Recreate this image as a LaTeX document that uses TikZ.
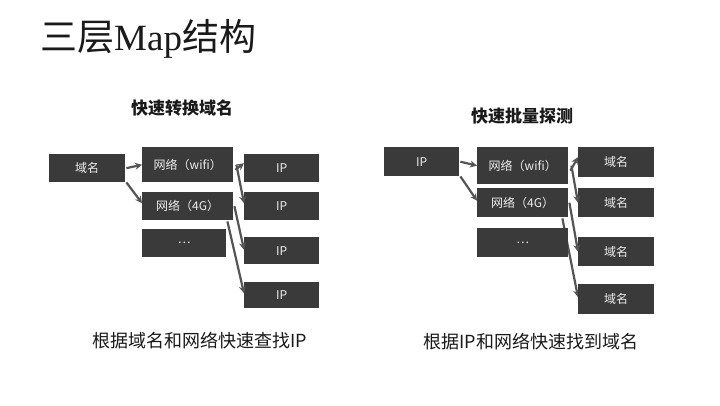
\documentclass[tikz,border=0pt]{standalone}
\usepackage{fontspec}
\setmainfont{Noto Sans CJK SC}
\newfontfamily\cjk{Noto Sans CJK SC}
\newfontfamily\latinserif{Liberation Serif}
\usetikzlibrary{arrows.meta,backgrounds}
\definecolor{boxgray}{HTML}{3A3A3A}
\definecolor{boxtext}{HTML}{EEEEEE}
\definecolor{arrgray}{HTML}{555555}
\definecolor{txtdark}{HTML}{1A1A1A}
\begin{document}
\begin{tikzpicture}[x=1pt,y=-1pt,
  box/.style={fill=boxgray, text=boxtext, inner sep=0pt, anchor=north west,
    font=\cjk\fontsize{12}{14}\selectfont},
  arr/.style={draw=arrgray, line width=2.2pt, -{Stealth[length=7pt,width=7pt]}},
  heading/.style={inner sep=0pt, text=txtdark, font=\cjk\bfseries\fontsize{17}{20}\selectfont},
  caption/.style={inner sep=0pt, text=txtdark, font=\cjk\fontsize{18}{21}\selectfont}]
\useasboundingbox (0,0) rectangle (720,405);

% title
\node[inner sep=0pt, anchor=west, text=txtdark, font=\cjk\fontsize{37}{40}\selectfont] (title) at (40,39) {三层{\latinserif Map}结构};

% headings
\node[heading] (h1) at (182,108) {快速转换域名};
\node[heading] (h2) at (522,116) {快速批量探测};

% left group
\node[box, minimum width=76pt, minimum height=28pt] (dm) at (49,154) {域名};
\node[box, minimum width=91pt, minimum height=35pt] (wifi) at (142,147) {网络（wifi）};
\node[box, minimum width=91pt, minimum height=28pt] (g4) at (142,192) {网络（4G）};
\node[box, minimum width=84pt, minimum height=28pt] (dots) at (142,229) {…};
\node[box, minimum width=75pt, minimum height=28pt] (ip1) at (244,154) {IP};
\node[box, minimum width=75pt, minimum height=28pt] (ip2) at (244,192) {IP};
\node[box, minimum width=75pt, minimum height=27pt] (ip3) at (244,237) {IP};
\node[box, minimum width=75pt, minimum height=26pt] (ip4) at (244,282) {IP};

% right group
\node[box, minimum width=75pt, minimum height=29pt] (ipR) at (384,147) {IP};
\node[box, minimum width=91pt, minimum height=37pt] (wifiR) at (477,147) {网络（wifi）};
\node[box, minimum width=91pt, minimum height=29pt] (g4R) at (477,188) {网络（4G）};
\node[box, minimum width=91pt, minimum height=29pt] (dotsR) at (477,228) {…};
\node[box, minimum width=76pt, minimum height=30pt] (d1) at (578,147) {域名};
\node[box, minimum width=76pt, minimum height=29pt] (d2) at (578,188) {域名};
\node[box, minimum width=76pt, minimum height=29pt] (d3) at (578,237) {域名};
\node[box, minimum width=76pt, minimum height=30pt] (d4) at (578,284) {域名};

% captions
\node[caption] (c1) at (200,341) {根据域名和网络快速查找IP};
\node[caption] (c2) at (531,342) {根据IP和网络快速找到域名};

% left arrows
\draw[arr] ([xshift=1pt]dm.east) -- (wifi.west);
\draw[arr] ([xshift=1pt]dm.south east) -- ([yshift=3pt]g4.west);
\draw[arr] ([xshift=2pt,yshift=-5pt]wifi.east) -- ([yshift=5pt]ip1.west);
\draw[arr] ([xshift=3pt]wifi.east) -- ([yshift=3pt]ip2.west);
\draw[arr] ([xshift=1pt]g4.east) -- ([yshift=1pt]ip3.west);
\draw[arr] ([xshift=-6pt,yshift=-1pt]g4.south east) -- ([yshift=2pt]ip4.west);
% right arrows
\draw[arr] ([xshift=1pt]ipR.east) -- (wifiR.west);
\draw[arr] ([xshift=1pt]ipR.south east) -- ([yshift=2pt]g4R.west);
\draw[arr] ([xshift=2pt,yshift=-5pt]wifiR.east) -- ([yshift=5pt]d1.west);
\draw[arr] ([xshift=3pt]wifiR.east) -- (d2.west);
\draw[arr] ([xshift=1pt]g4R.east) -- (d3.west);
\begin{pgfonlayer}{background}
\fill[white] (0,0) rectangle (720,405);
\draw[arr] ([xshift=-6pt,yshift=-1pt]g4R.south east) -- ([yshift=2pt]d4.west);
\end{pgfonlayer}
\end{tikzpicture}
\end{document}
